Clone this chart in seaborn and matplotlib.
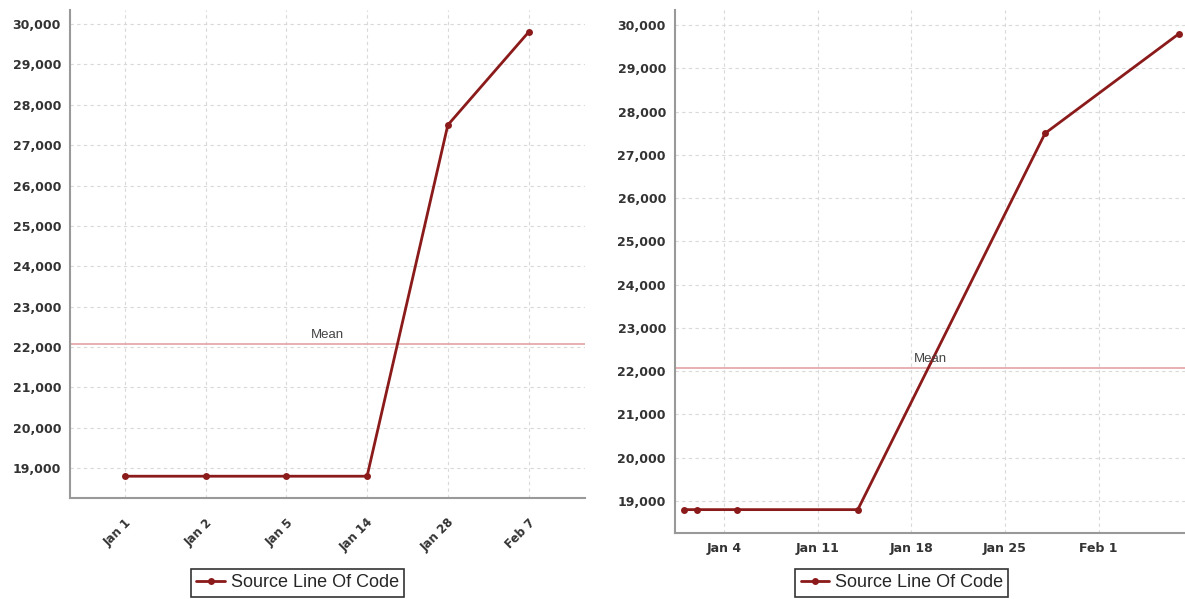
import pandas as pd
import numpy as np
import matplotlib
matplotlib.use("Agg")
import matplotlib.pyplot as plt
from matplotlib.ticker import FuncFormatter, MultipleLocator
import seaborn as sns

# values
dates = ["2024-01-01", "2024-01-02", "2024-01-05", "2024-01-14", "2024-01-28", "2024-02-07"]
date_labels = ["Jan 1", "Jan 2", "Jan 5", "Jan 14", "Jan 28", "Feb 7"]
sloc = [18800, 18800, 18800, 18800, 27500, 29800]
series_name = "Source Line Of Code"
right_ticks = ["2024-01-04", "2024-01-11", "2024-01-18", "2024-01-25", "2024-02-01"]
right_tick_labels = ["Jan 4", "Jan 11", "Jan 18", "Jan 25", "Feb 1"]

df = pd.DataFrame({"date": pd.to_datetime(dates), "label": date_labels, "sloc": sloc})
mean_val = df["sloc"].mean()

sns.set_theme(style="white")
plt.rcParams["font.family"] = ["Liberation Sans", "DejaVu Sans"]

line_color = "#8b1a1a"
mean_color = "#e3a3a3"
grid_kw = dict(color="#d9d9d9", linestyle=(0, (3, 3)), linewidth=0.8)
tick_font = dict(family="DejaVu Sans", weight="bold", size=9)

fig = plt.figure(figsize=(11.85, 5.99), dpi=100)
ax1 = fig.add_axes([0.0591, 0.1686, 0.4346, 0.8147])
ax2 = fig.add_axes([0.5696, 0.1102, 0.4304, 0.8731])

# left: categorical axis
sns.lineplot(data=df, x="label", y="sloc", sort=False, ax=ax1, color=line_color,
             linewidth=2, marker="o", markersize=5, markeredgewidth=0, label=series_name)
ax1.set_xlim(-0.68, 5.7)

# right: date axis
sns.lineplot(data=df, x="date", y="sloc", ax=ax2, color=line_color,
             linewidth=2, marker="o", markersize=5, markeredgewidth=0, label=series_name)
ax2.set_xlim(pd.Timestamp("2023-12-31 08:00"), pd.Timestamp("2024-02-07 11:00"))
ax2.set_xticks(pd.to_datetime(right_ticks))
ax2.set_xticklabels(right_tick_labels)

for ax in (ax1, ax2):
    ax.set_ylim(18260, 30350)
    ax.yaxis.set_major_locator(MultipleLocator(1000))
    ax.yaxis.set_major_formatter(FuncFormatter(lambda v, p: f"{int(v):,}"))
    ax.grid(True, **grid_kw)
    ax.set_axisbelow(True)
    ax.axhline(mean_val, color=mean_color, linewidth=1.2, zorder=1)
    ax.text(0.5, mean_val + 60, "Mean", transform=ax.get_yaxis_transform(),
            ha="center", va="bottom", fontsize=9.5, color="#444444")
    ax.set_xlabel("")
    ax.set_ylabel("")
    for s in ("top", "right"):
        ax.spines[s].set_visible(False)
    for s in ("left", "bottom"):
        ax.spines[s].set_color("#999999")
        ax.spines[s].set_linewidth(1.5)
    ax.tick_params(axis="both", which="both", length=3, width=0.8, color="#999999",
                   labelcolor="#333333", direction="out")
    for lab in ax.get_xticklabels() + ax.get_yticklabels():
        lab.set(**tick_font)
    ax.get_legend().remove()

ax1.tick_params(axis="x", pad=10)
for lab in ax1.get_xticklabels():
    lab.set_rotation(45)
    lab.set_ha("right")
    lab.set_rotation_mode("anchor")
    lab.set_fontsize(8.5)

handles, labels = ax1.get_legend_handles_labels()
for x in (0.251, 0.761):
    leg = fig.legend(handles, labels, loc="center", bbox_to_anchor=(x, 0.027),
                     fontsize=13, frameon=True, fancybox=False, handlelength=1.6,
                     handletextpad=0.3, borderpad=0.3, borderaxespad=0)
    leg.get_frame().set_edgecolor("black")
    leg.get_frame().set_linewidth(1.2)

fig.savefig("out.png", dpi=100)
